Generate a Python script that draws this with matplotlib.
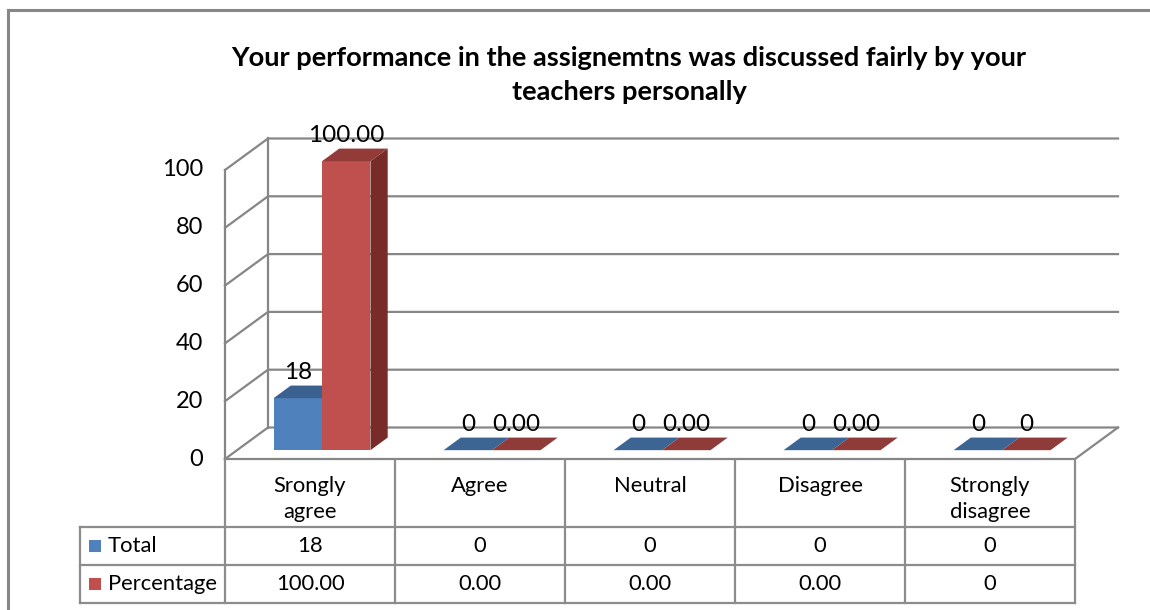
import numpy as np
import matplotlib.pyplot as plt
from matplotlib.patches import Polygon, Rectangle
from matplotlib.transforms import blended_transform_factory

# data
categories = ["Srongly\nagree", "Agree", "Neutral", "Disagree", "Strongly\ndisagree"]
total = [18, 0, 0, 0, 0]
percentage = [100.00, 0.00, 0.00, 0.00, 0]
total_labels = ["18", "0", "0", "0", "0"]
pct_labels = ["100.00", "0.00", "0.00", "0.00", "0"]
series_names = ["Total", "Percentage"]
yticks = [0, 20, 40, 60, 80, 100]
title = "Your performance in the assignemtns was discussed fairly by your\nteachers personally"

plt.rcParams["font.family"] = ["Lato", "DejaVu Sans"]

W, H = 1150, 610
fig = plt.figure(figsize=(W / 100, H / 100), dpi=100)
ax = fig.add_axes([0, 0, 1, 1])
ax.axis("off")

# front-plane scale: x in category units, y in value units
x0_px, cat_px = 225, 170
y0_px, unit_px = 459, 2.89
ax.set_xlim(-x0_px / cat_px, (W - x0_px) / cat_px)
ax.set_ylim(-(H - y0_px) / unit_px, y0_px / unit_px)

# depth vector of the 3d box
ddx, ddy = 43 / cat_px, 31.5 / unit_px
ncat = len(categories)
ymax = 100
grid = "#868686"

# walls: side wall + back wall gridlines
for v in yticks:
    ax.plot([0, ddx, ncat + ddx], [v, v + ddy, v + ddy], color=grid, lw=1.6, zorder=1)
ax.plot([0, 0], [0, ymax], color=grid, lw=1.6, zorder=1)
ax.plot([ddx, ddx], [ddy, ymax + ddy], color=grid, lw=1.6, zorder=1)
# floor
ax.plot([0, ncat, ncat + ddx], [0, 0, ddy], color=grid, lw=1.6, zorder=1)

for v in yticks:
    ax.annotate(str(v), (0, v), xytext=(-22, 0), textcoords="offset pixels",
                ha="right", va="center", fontsize=17)

# bars
f0, f1 = 0.28, 0.68
gap, bw = 0.215, 0.285
colors = {
    "Total": ("#4F81BD", "#3B6190", "#2E4E77"),
    "Percentage": ("#C0504D", "#933B39", "#772C2A"),
}
flat = {"Total": "#3C6594", "Percentage": "#8E3B39"}
series = [(total, total_labels, "Total"), (percentage, pct_labels, "Percentage")]

for i in range(ncat):
    for k, (vals, labs, name) in enumerate(series):
        v = vals[i]
        front, top, side = colors[name]
        xl = i + gap + k * bw + f0 * ddx
        xr = xl + bw
        yb = f0 * ddy
        sx, sy = (f1 - f0) * ddx, (f1 - f0) * ddy
        if v > 0:
            ax.add_patch(Rectangle((xl, yb), bw, v, facecolor=front, edgecolor="none", zorder=3 + k))
            ax.add_patch(Polygon([(xl, yb + v), (xr, yb + v), (xr + sx, yb + v + sy), (xl + sx, yb + v + sy)],
                                 closed=True, facecolor=top, edgecolor="none", zorder=3 + k))
            ax.add_patch(Polygon([(xr, yb), (xr + sx, yb + sy), (xr + sx, yb + v + sy), (xr, yb + v)],
                                 closed=True, facecolor=side, edgecolor="none", zorder=3 + k))
        else:
            ax.add_patch(Polygon([(xl, yb), (xr, yb), (xr + sx, yb + sy), (xl + sx, yb + sy)],
                                 closed=True, facecolor=flat[name], edgecolor="none", zorder=3 + k))
        ax.annotate(labs[i], ((xl + xr) / 2, yb + v), xytext=(0, 19), textcoords="offset pixels",
                    ha="center", va="baseline", fontsize=17.5, zorder=6)

# data table under the chart
tr = blended_transform_factory(ax.transData, fig.transFigure)
def fy(py):
    return 1 - py / H

row_y = [460, 527, 565, 603]
lab_left = (80 - x0_px) / cat_px
tcol = "#8C8C8C"
for xb in range(ncat + 1):
    ax.plot([xb, xb], [fy(row_y[0]), fy(row_y[-1])], color=tcol, lw=1.6, transform=tr, zorder=2)
for ry in row_y[1:]:
    ax.plot([lab_left, ncat], [fy(ry), fy(ry)], color=tcol, lw=1.6, transform=tr, zorder=2)
ax.plot([lab_left, lab_left], [fy(row_y[1]), fy(row_y[-1])], color=tcol, lw=1.6, transform=tr, zorder=2)

for i, c in enumerate(categories):
    ax.text(i + 0.5, fy(476), c, transform=tr, ha="center", va="top", fontsize=15.8, linespacing=1.4)
for r, (vals, labs, name) in enumerate(series):
    yc = fy((row_y[r + 1] + row_y[r + 2]) / 2)
    for i in range(ncat):
        ax.text(i + 0.5, yc, labs[i], transform=tr, ha="center", va="center", fontsize=15.8)
    ax.add_patch(Rectangle((lab_left + 9 / cat_px, yc - 6 / H), 12 / cat_px, 12 / H,
                           facecolor=colors[name][0], edgecolor="none", transform=tr))
    ax.text(lab_left + 28 / cat_px, yc, name, transform=tr, ha="left", va="center", fontsize=15.8)

fig.text(629 / W, fy(75), title, ha="center", va="center", fontsize=19.6, fontweight="bold",
         linespacing=1.5)

# outer chart frame
fig.add_artist(plt.Line2D([8 / W, 8 / W], [0, fy(10)], color="#878787", lw=2.2))
fig.add_artist(plt.Line2D([8 / W, 1], [fy(10), fy(10)], color="#878787", lw=2.2))

fig.savefig("out.png", dpi=100)
